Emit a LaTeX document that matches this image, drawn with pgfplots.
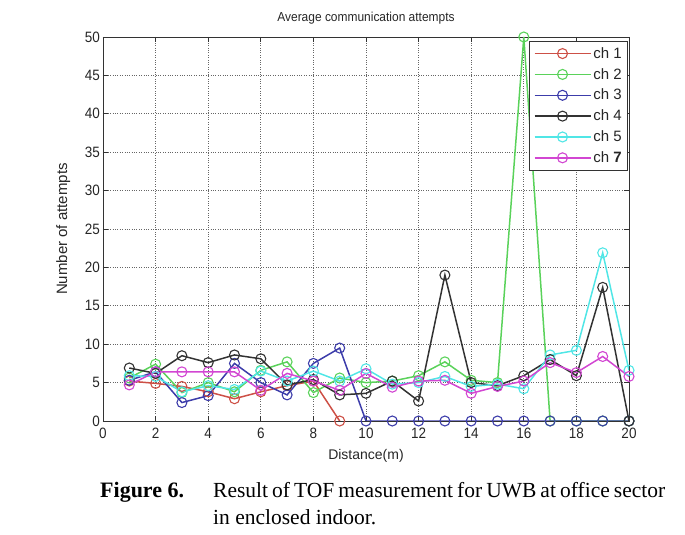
\documentclass[border=0pt]{standalone}
\usepackage{pgfplots}
\pgfplotsset{compat=1.18}
\usepackage{fontspec}
\setmainfont{Liberation Serif}
\newfontfamily\axfont{Liberation Sans}
\definecolor{cA}{RGB}{205,80,70}
\definecolor{cB}{RGB}{90,210,90}
\definecolor{cC}{RGB}{60,60,170}
\definecolor{cD}{RGB}{50,50,50}
\definecolor{cE}{RGB}{80,230,230}
\definecolor{cF}{RGB}{210,70,210}
\begin{document}
\begin{tikzpicture}
\begin{axis}[
  at={(0,0)}, anchor=south west,
  width=526bp, height=384bp, scale only axis,
  xmin=0, xmax=20, ymin=0, ymax=50,
  xtick={0,2,...,20}, ytick={0,5,...,50},
  grid=major,
  major grid style={dotted, black!60, line width=0.8pt},
  axis line style={black!80, line width=0.8pt},
  tick style={black!80, line width=0.8pt},
  major tick length=5bp,
  tick align=inside,
  /pgf/number format/assume math mode=true,
  ticklabel style={font=\axfont\fontsize{15bp}{17bp}\selectfont, text=black!85, xscale=0.9},
  xticklabel style={yshift=-4bp},
  title={Average communication attempts},
  title style={font=\axfont\fontsize{13bp}{15bp}\selectfont, text=black!85, xscale=0.92, yshift=3bp},
  xlabel={Distance(m)},
  ylabel={Number of attempts},
  label style={font=\axfont\fontsize{14bp}{16bp}\selectfont, text=black!85},
  xlabel style={yshift=-3bp},
  ylabel style={font=\axfont\fontsize{15bp}{17bp}\selectfont, yshift=8bp},
  legend style={at={(1,1)}, anchor=north east, xshift=-1bp, yshift=-4bp,
    font=\axfont\fontsize{15bp}{17bp}\selectfont, text=black!85,
    draw=black!80, line width=0.8pt, row sep=4.5bp, inner sep=4bp},
  legend cell align=left,
  legend image code/.code={\draw[mark repeat=2,mark phase=2,#1] plot coordinates {(0bp,0bp) (28bp,0bp) (56bp,0bp)};},
  every axis plot/.append style={line width=1.5pt, mark=o, mark size=5bp, mark options={solid, line width=1.1pt}},
]
\addplot[cA] coordinates {(1,5.2)(2,4.9)(3,4.5)(4,3.8)(5,2.9)(6,3.8)(7,4.6)(8,5.2)(9,0)};
\addlegendentry{ch 1}
\addplot[cB] coordinates {(1,5.6)(2,7.4)(3,3.7)(4,5.0)(5,3.8)(6,6.6)(7,7.7)(8,3.7)(9,5.6)(10,5.0)(11,5.2)(12,5.9)(13,7.7)(14,5.3)(15,5.0)(16,50)(17,0)(18,0)(19,0)(20,0)};
\addlegendentry{ch 2}
\addplot[cC] coordinates {(1,5.3)(2,6.4)(3,2.4)(4,3.3)(5,7.5)(6,5.0)(7,3.4)(8,7.5)(9,9.5)(10,0)(11,0)(12,0)(13,0)(14,0)(15,0)(16,0)(17,0)(18,0)(19,0)(20,0)};
\addlegendentry{ch 3}
\addplot[cD] coordinates {(1,6.9)(2,6.2)(3,8.5)(4,7.6)(5,8.6)(6,8.1)(7,4.7)(8,5.4)(9,3.4)(10,3.6)(11,5.2)(12,2.6)(13,19.0)(14,5.0)(15,4.6)(16,5.9)(17,8.0)(18,5.9)(19,17.4)(20,0)};
\addlegendentry{ch 4}
\addplot[cE] coordinates {(1,5.9)(2,5.8)(3,3.8)(4,4.6)(5,4.1)(6,6.5)(7,5.2)(8,6.5)(9,5.2)(10,6.8)(11,4.8)(12,5.0)(13,5.8)(14,4.5)(15,4.8)(16,4.2)(17,8.6)(18,9.2)(19,21.9)(20,6.6)};
\addlegendentry{ch 5}
\addplot[cF] coordinates {(1,4.7)(2,6.4)(3,6.4)(4,6.4)(5,6.4)(6,4.0)(7,6.2)(8,5.2)(9,4.0)(10,6.2)(11,4.4)(12,5.2)(13,5.3)(14,3.6)(15,4.5)(16,5.2)(17,7.6)(18,6.3)(19,8.4)(20,5.8)};
\addlegendentry{ch \textbf{7}}
\end{axis}
\node[anchor=base west, font=\fontsize{22bp}{26bp}\selectfont\bfseries, inner sep=0pt] at (-3bp,-76bp) {Figure 6.};
\node[anchor=base west, font=\fontsize{21.5bp}{26bp}\selectfont, inner sep=0pt] at (110bp,-76bp) {\makebox[452bp][s]{Result of TOF measurement for UWB at office sector}};
\node[anchor=base west, font=\fontsize{21.5bp}{26bp}\selectfont, inner sep=0pt] at (110bp,-103bp) {in enclosed indoor.};
\pgfresetboundingbox
\useasboundingbox (-103bp,-114bp) rectangle (582bp,421bp);
\end{tikzpicture}
\end{document}
